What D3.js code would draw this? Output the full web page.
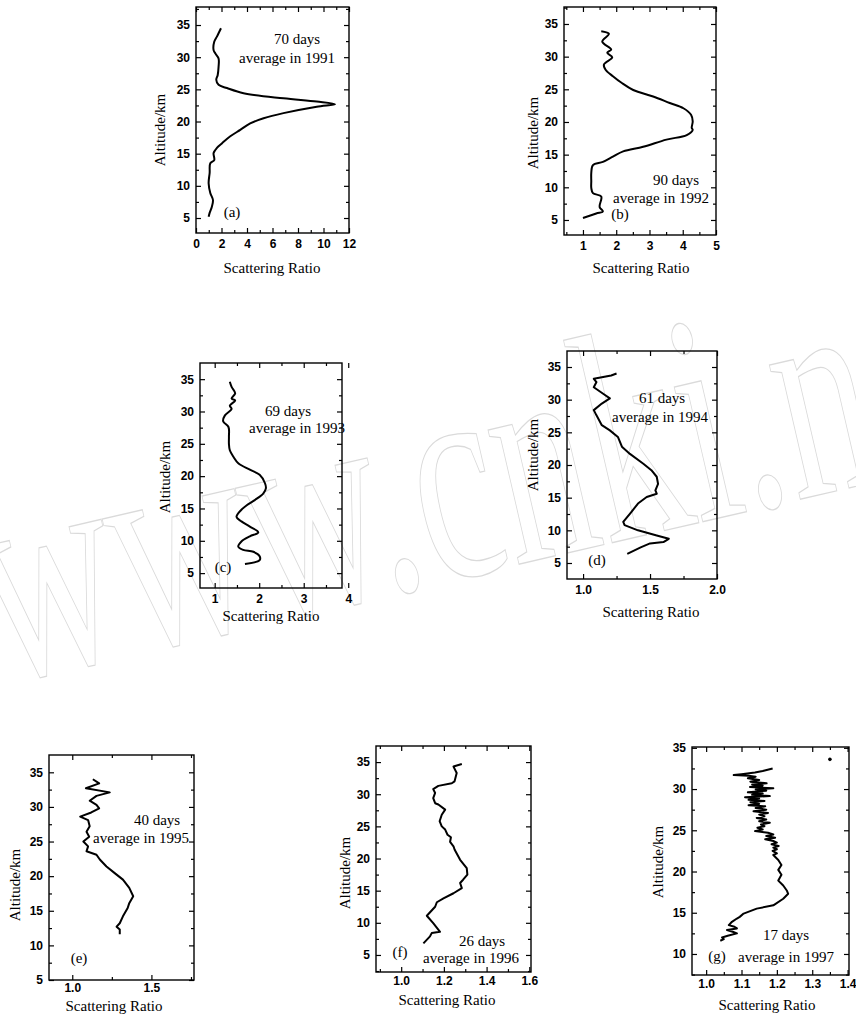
<!DOCTYPE html>
<html lang="en">
<head>
<meta charset="utf-8">
<title>Scattering ratio profiles 1991-1997</title>
<script src="https://cdn.jsdelivr.net/npm/d3@7"></script>
<style>
  body { margin: 0; background: #fff; }
  .frame { fill: none; stroke: #000; stroke-width: 1.4px; }
  .profile { fill: none; stroke: #000; stroke-width: 2px; stroke-linejoin: round; }
  .tick line { stroke: #000; stroke-width: 1.2px; }
  .tick text { font-family: "Liberation Sans", Arial, sans-serif; font-size: 12px; font-weight: bold; fill: #000; }
  .serif { font-family: "Liberation Serif", "Times New Roman", serif; font-size: 15px; fill: #000; }
  .watermark { font-family: "Liberation Serif", serif; fill: none; stroke: #dadada; stroke-width: 1.3px; }
</style>
</head>
<body>
<svg width="856" height="1019"></svg>
<script>
// ---- values (altitude km / scattering ratio) ----
var altA = [34.5,33.2,32.4,31.1,30.6,29.8,28.5,27.2,26.5,25.7,25.2,24.4,23.6,23.1,22.7,22.3,21.3,20.5,19.7,18.7,17.7,16.6,15.9,15.1,14.0,13.5,12.0,10.4,8.9,7.8,6.8,5.8,5.2];
var ratioA = [1.96,1.64,1.43,1.38,1.51,1.77,1.77,1.70,1.59,1.77,2.43,3.73,6.86,9.47,10.9,9.47,6.86,5.30,4.25,3.47,2.69,2.03,1.64,1.38,1.43,1.12,1.07,0.99,1.12,1.33,1.25,1.07,0.99];

var altB = [33.9,33.5,32.3,31.1,30.6,29.9,28.8,28.0,27.0,26.0,24.9,23.9,22.9,22.1,21.1,20.1,19.1,18.8,18.0,17.3,16.2,15.5,14.7,13.9,13.4,12.2,10.9,9.9,9.1,8.6,7.0,6.3,6.0,5.3];
var ratioB = [1.55,1.78,1.58,1.85,1.73,1.88,1.63,1.68,1.90,2.16,2.51,3.11,3.61,4.02,4.25,4.30,4.27,4.30,4.12,3.51,2.81,2.21,1.90,1.60,1.30,1.25,1.25,1.25,1.30,1.55,1.50,1.60,1.40,1.00];

var altC = [34.6,33.8,32.8,32.0,31.7,30.9,30.4,29.4,28.5,27.6,26.1,25.0,24.0,23.0,22.0,21.0,20.2,18.9,18.1,17.3,16.3,15.5,14.8,13.7,13.0,12.2,11.3,10.7,9.9,9.1,8.6,8.3,7.6,7.0,6.4];
var ratioC = [1.34,1.38,1.46,1.38,1.46,1.34,1.38,1.23,1.19,1.31,1.32,1.32,1.34,1.42,1.53,1.79,2.01,2.13,2.15,2.09,1.90,1.72,1.60,1.49,1.60,1.79,1.98,1.79,1.60,1.53,1.64,1.87,2.01,2.01,1.68];

var altD = [34.0,33.7,33.2,32.7,31.9,30.9,30.2,29.4,28.4,27.6,26.1,25.3,24.3,22.8,21.7,20.2,19.2,18.2,17.1,16.1,15.6,15.1,14.1,12.8,11.3,10.8,10.0,9.2,8.7,8.2,8.0,7.4,6.4];
var ratioD = [1.25,1.21,1.08,1.10,1.08,1.15,1.20,1.14,1.08,1.10,1.14,1.20,1.26,1.29,1.35,1.45,1.51,1.55,1.56,1.54,1.55,1.475,1.41,1.36,1.30,1.31,1.41,1.55,1.64,1.60,1.50,1.43,1.33];

var altE = [34.0,33.4,32.7,32.1,31.6,30.9,30.3,29.8,29.2,28.6,28.1,27.2,26.4,25.7,25.0,24.3,23.6,23.1,22.4,21.4,20.4,19.5,18.3,17.1,16.1,15.4,14.2,13.2,12.7,12.3,11.6];
var ratioE = [1.13,1.17,1.086,1.237,1.153,1.11,1.153,1.17,1.12,1.05,1.10,1.11,1.09,1.107,1.07,1.10,1.09,1.153,1.174,1.216,1.27,1.32,1.36,1.385,1.36,1.35,1.32,1.30,1.28,1.30,1.30];

var altF = [34.7,34.3,33.3,32.0,31.7,31.3,30.8,30.2,29.4,28.6,28.4,27.6,26.8,25.8,25.0,24.5,23.7,23.3,22.6,21.9,21.4,19.8,18.5,17.5,16.7,16.2,15.4,14.6,13.8,13.2,12.5,11.1,9.9,8.6,8.4,7.9,6.8];
var ratioF = [1.284,1.245,1.26,1.25,1.237,1.174,1.15,1.159,1.15,1.159,1.174,1.206,1.19,1.18,1.19,1.206,1.217,1.233,1.229,1.245,1.25,1.276,1.307,1.31,1.29,1.276,1.284,1.245,1.198,1.167,1.159,1.12,1.151,1.182,1.143,1.135,1.104];

var altG = [32.5,32.2,32.0,31.8,31.7,31.6,31.5,31.3,31.1,30.9,30.7,30.55,30.4,30.25,30.1,29.95,29.8,29.6,29.45,29.3,
            29.15,29.0,28.85,28.7,28.55,28.4,28.2,28.05,27.9,27.7,27.5,27.3,27.1,26.9,26.7,26.5,26.3,26.1,25.9,25.7,
            25.5,25.3,25.1,24.9,24.7,24.5,24.3,24.1,23.9,23.7,23.5,23.3,23.1,22.9,22.7,22.5,22.2,22.0,21.4,20.8,
            20.2,19.6,18.9,18.3,17.7,17.3,16.7,15.9,15.5,14.9,14.5,14.3,13.9,13.5,13.3,13.1,12.9,12.7,12.5,12.2,
            12.0,11.8,11.6];
var ratioG = [1.188,1.16,1.138,1.10,1.078,1.12,1.14,1.118,1.15,1.125,1.171,1.13,1.16,1.124,1.19,1.14,1.17,1.118,1.16,1.13,
              1.18,1.11,1.15,1.12,1.165,1.125,1.15,1.12,1.167,1.14,1.17,1.134,1.175,1.15,1.165,1.143,1.17,1.15,1.18,1.155,
              1.165,1.145,1.16,1.138,1.175,1.19,1.17,1.195,1.167,1.19,1.2,1.185,1.205,1.19,1.2,1.188,1.2,1.19,1.204,1.213,
              1.204,1.213,1.204,1.218,1.228,1.232,1.218,1.19,1.143,1.106,1.095,1.087,1.073,1.064,1.08,1.087,1.059,1.075,1.087,1.061,
              1.045,1.05,1.04];
// lone point near the top of panel (g)
var strayG = [{ratio: 1.35, alt: 33.6}];

// tick values
var xTicksA = [0,2,4,6,8,10,12];
var xTicksB = [1,2,3,4,5];
var xTicksC = [1,2,3,4];
var xTicksD = [1.0,1.5,2.0];
var xTicksE = [1.0,1.5];
var xTicksF = [1.0,1.2,1.4,1.6];
var xTicksG = [1.0,1.1,1.2,1.3,1.4];
var yTicks = [5,10,15,20,25,30,35];
var yTicksG = [10,15,20,25,30,35];

// notes
var notes = {
  a: ["70 days", "average in 1991"],
  b: ["90 days", "average in 1992"],
  c: ["69 days", "average in 1993"],
  d: ["61 days", "average in 1994"],
  e: ["40 days", "average in 1995"],
  f: ["26 days", "average in 1996"],
  g: ["17 days", "average in 1997"]
};

// ---- layout ----
var panels = [
  {id:"a", alt:altA, ratio:ratioA, xt:xTicksA, yt:yTicks, fmt:"d", smooth:true, pad:6,
   xDom:[0,12], yDom:[2.67,37.8], box:{l:196,r:349,t:7,b:233},
   xTitle:[272,273], yTitle:[160,130], note:[[297,44],[287,63]], tag:[232,217]},
  {id:"b", alt:altB, ratio:ratioB, xt:xTicksB, yt:yTicks, fmt:"d", smooth:true, pad:6,
   xDom:[0.43,5], yDom:[2.7,37.6], box:{l:564,r:716,t:7,b:235},
   xTitle:[641,273], yTitle:[533,133], note:[[676,185],[661,203]], tag:[620,219]},
  {id:"c", alt:altC, ratio:ratioC, xt:xTicksC, yt:yTicks, fmt:"d", smooth:true, pad:6,
   xDom:[0.67,3.86], yDom:[2.7,37.5], box:{l:200,r:342,t:363,b:588},
   xTitle:[271,621], yTitle:[165,477], note:[[288,416],[297,433]], tag:[223,572]},
  {id:"d", alt:altD, ratio:ratioD, xt:xTicksD, yt:yTicks, fmt:".1f", smooth:false, pad:6,
   xDom:[0.88,2.0], yDom:[2.55,37.45], box:{l:567,r:717,t:351,b:579},
   xTitle:[651,617], yTitle:[533,455], note:[[662,403],[660,422]], tag:[597,565]},
  {id:"e", alt:altE, ratio:ratioE, xt:xTicksE, yt:yTicks, fmt:".1f", smooth:false, pad:3,
   xDom:[0.853,1.769], yDom:[5,37.5], box:{l:49,r:194,t:755,b:980},
   xTitle:[114,1011], yTitle:[15,885], note:[[157,825],[141,843]], tag:[79,963]},
  {id:"f", alt:altF, ratio:ratioF, xt:xTicksF, yt:yTicks, fmt:".1f", smooth:false, pad:4,
   xDom:[0.882,1.608], yDom:[2.35,37.5], box:{l:376,r:531,t:746,b:972},
   xTitle:[447,1005], yTitle:[345,873], note:[[482,946],[471,963]], tag:[400,957]},
  {id:"g", alt:altG, ratio:ratioG, xt:xTicksG, yt:yTicksG, fmt:".1f", smooth:false, pad:4,
   xDom:[0.96,1.404], yDom:[7.45,35.1], box:{l:692,r:849,t:747,b:975},
   xTitle:[767,1010], yTitle:[658,862], note:[[786,940],[786,962]], tag:[717,961]}
];

var svg = d3.select("svg");

// faint watermark across the middle of the page
svg.append("text")
  .attr("class", "watermark")
  .attr("transform", "translate(0,684) rotate(-13) scale(0.63,1)")
  .attr("font-size", 300)
  .text("www.cnki.net");

function minorVals(major, dom) {
  var step = major[1] - major[0];
  return d3.range(major[0] - step * 2.5, dom[1], step)
    .filter(function(v) { return v > dom[0] + 1e-6 && v < dom[1] - 1e-6; });
}

panels.forEach(function(p) {
  var b = p.box;
  var x = d3.scaleLinear().domain(p.xDom).range([b.l, b.r]);
  var y = d3.scaleLinear().domain(p.yDom).range([b.b, b.t]);
  var g = svg.append("g").attr("class", "panel-" + p.id);
  var fmt = d3.format(p.fmt);

  var xMinor = minorVals(p.xt, p.xDom);
  var yMinor = d3.range(2.5, 40, 5).filter(function(v) { return v > p.yDom[0] && v < p.yDom[1]; });

  // major ticks, labelled on bottom / left
  g.append("g").attr("transform", "translate(0," + b.b + ")")
    .call(d3.axisBottom(x).tickValues(p.xt).tickSize(-5).tickPadding(p.pad).tickFormat(fmt));
  g.append("g").attr("transform", "translate(0," + b.t + ")")
    .call(d3.axisTop(x).tickValues(p.xt).tickSize(-5).tickFormat(""));
  g.append("g").attr("transform", "translate(" + b.l + ",0)")
    .call(d3.axisLeft(y).tickValues(p.yt).tickSize(-5).tickPadding(6).tickFormat(d3.format("d")));
  g.append("g").attr("transform", "translate(" + b.r + ",0)")
    .call(d3.axisRight(y).tickValues(p.yt).tickSize(-5).tickFormat(""));

  // minor ticks
  g.append("g").attr("transform", "translate(0," + b.b + ")")
    .call(d3.axisBottom(x).tickValues(xMinor).tickSize(-3).tickFormat(""));
  g.append("g").attr("transform", "translate(0," + b.t + ")")
    .call(d3.axisTop(x).tickValues(xMinor).tickSize(-3).tickFormat(""));
  g.append("g").attr("transform", "translate(" + b.l + ",0)")
    .call(d3.axisLeft(y).tickValues(yMinor).tickSize(-3).tickFormat(""));
  g.append("g").attr("transform", "translate(" + b.r + ",0)")
    .call(d3.axisRight(y).tickValues(yMinor).tickSize(-3).tickFormat(""));

  g.selectAll(".domain").remove();
  g.selectAll("g").attr("font-size", null).attr("font-family", null);

  g.append("rect").attr("class", "frame")
    .attr("x", b.l).attr("y", b.t)
    .attr("width", b.r - b.l).attr("height", b.b - b.t);

  var pts = p.alt.map(function(a, i) { return {alt: a, ratio: p.ratio[i]}; });
  var line = d3.line()
    .x(function(d) { return x(d.ratio); })
    .y(function(d) { return y(d.alt); })
    .curve(p.smooth ? d3.curveCatmullRom.alpha(0.5) : d3.curveLinear);
  g.append("path").datum(pts).attr("class", "profile").attr("d", line);

  if (p.id === "g") {
    g.selectAll("circle.stray").data(strayG).enter().append("circle")
      .attr("cx", function(d) { return x(d.ratio); })
      .attr("cy", function(d) { return y(d.alt); })
      .attr("r", 1.8).attr("fill", "#000");
  }

  g.append("text").attr("class", "serif")
    .attr("x", p.xTitle[0]).attr("y", p.xTitle[1])
    .attr("text-anchor", "middle").text("Scattering Ratio");
  g.append("text").attr("class", "serif")
    .attr("transform", "translate(" + p.yTitle[0] + "," + p.yTitle[1] + ") rotate(-90)")
    .attr("text-anchor", "middle").attr("dy", "0.35em").text("Altitude/km");

  g.selectAll("text.note").data(notes[p.id]).enter().append("text")
    .attr("class", "serif note")
    .attr("x", function(d, i) { return p.note[i][0]; })
    .attr("y", function(d, i) { return p.note[i][1]; })
    .attr("text-anchor", "middle")
    .text(function(d) { return d; });

  g.append("text").attr("class", "serif")
    .attr("x", p.tag[0]).attr("y", p.tag[1])
    .attr("text-anchor", "middle").text("(" + p.id + ")");
});
</script>
</body>
</html>
